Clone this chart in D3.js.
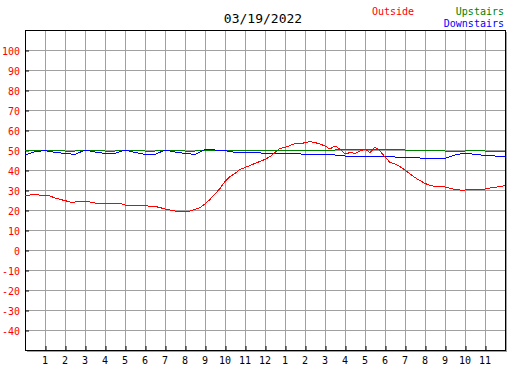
<!DOCTYPE html>
<html>
<head>
<meta charset="utf-8">
<script src="https://cdn.jsdelivr.net/npm/d3@7"></script>
<style>
  body { margin: 0; background: #fff; }
  text { font-family: "DejaVu Sans Mono", monospace; }
</style>
</head>
<body>
<div id="chart-container"></div>
<script>
// chart data (temperatures in F)
const chartDate = "03/19/2022";
const hourLabels = ["1", "2", "3", "4", "5", "6", "7", "8", "9", "10", "11", "12",
  "1", "2", "3", "4", "5", "6", "7", "8", "9", "10", "11"];
const tempTicks = [-40, -30, -20, -10, 0, 10, 20, 30, 40, 50, 60, 70, 80, 90, 100];

// outside readings every 15 minutes
const outsideTemps = [
  27.3, 27.5, 28, 27.3, 27.3, 27, 26, 25.3, 24.7, 24, 24, 24.5,
  24.3, 24, 23.5, 23.5, 23.5, 23.5, 23.5, 23.3, 22.5, 22.3, 22.3, 22.3,
  22.3, 21.8, 21.8, 21.2, 20.5, 20, 19.5, 19.5, 19.2, 19.5, 20.3, 21.2,
  23, 25.3, 28, 30.8, 34.2, 36.7, 38.3, 40.3, 41.2, 42.3, 43.3, 44.3,
  45.3, 46.7, 48.7, 50.8, 51.3, 52.2, 53.3, 53, 53.7, 54.2, 53.7, 53,
  52, 50.5, 52, 50.5, 48, 48.7, 48.3, 49.5, 50.5, 48.7, 51.5, 49.5,
  46.5, 43.8, 43, 41.7, 40, 38, 36.2, 34.7, 33.3, 32.3, 31.8, 31.7,
  31.5, 30.8, 30.3, 30, 30, 30.2, 30.2, 30.3, 30.5, 31, 31.3, 31.7, 32.2
];

// upstairs readings every 30 minutes
const upstairsTemps = [
  50, 50, 50, 50, 49.5, 49.5, 50, 50, 49.5, 49.5, 50, 50,
  49.5, 49.5, 50, 50, 49.5, 49.5, 50, 50, 50, 50, 50, 50,
  50, 50, 50, 50, 50, 50, 50, 50, 50.2, 50.2, 50.2, 50.2,
  50.2, 50.2, 50, 50, 50, 50, 49.5, 49.5, 49.5, 49.8, 49.5, 49.5, 49.5
];

// downstairs readings every 30 minutes
const downstairsTemps = [
  47.5, 49.2, 49.7, 48.8, 48.3, 47.8, 50, 49, 48.3, 48.3, 50, 48.8,
  47.8, 47.8, 50, 49, 48.3, 47.8, 50.3, 50, 49.7, 48.8, 48.8, 48.8,
  48.3, 48.3, 48.3, 48.3, 47.8, 47.8, 47.8, 47.5, 47, 46.8, 46.8, 46.8,
  46.8, 46.5, 46.2, 46.2, 45.8, 45.8, 45.8, 47.5, 48.5, 47.8, 47.3, 47, 47
];

// dimensions and margins for the chart
const margin = { top: 30, right: 22, bottom: 20, left: 25 };
const width = 527 - margin.left - margin.right;
const height = 370 - margin.top - margin.bottom;

// x and y scales
const xScale = d3.scaleLinear().domain([0, 24]).range([0, width]);
const yScale = d3.scaleLinear().domain([-50, 110]).range([height, 0]);

const svg = d3
  .select("#chart-container")
  .append("svg")
  .attr("width", width + margin.left + margin.right)
  .attr("height", height + margin.top + margin.bottom);

const g = svg
  .append("g")
  .attr("transform", `translate(${margin.left}, ${margin.top})`);

// gray drop shadow behind the plot
g.append("rect")
  .attr("x", 2)
  .attr("y", 2)
  .attr("width", width)
  .attr("height", height)
  .attr("fill", "#a0a0a0");

g.append("rect")
  .attr("width", width)
  .attr("height", height)
  .attr("fill", "#fff");

// grid lines
const hours = d3.range(1, 24);
g.selectAll(".vgrid")
  .data(hours)
  .join("line")
  .attr("class", "vgrid")
  .attr("x1", (d) => Math.round(xScale(d)) + 0.5)
  .attr("x2", (d) => Math.round(xScale(d)) + 0.5)
  .attr("y1", 0)
  .attr("y2", height)
  .attr("stroke", "#a0a0a0");

g.selectAll(".hgrid")
  .data(tempTicks)
  .join("line")
  .attr("class", "hgrid")
  .attr("x1", 0)
  .attr("x2", width)
  .attr("y1", (d) => Math.round(yScale(d)) + 0.5)
  .attr("y2", (d) => Math.round(yScale(d)) + 0.5)
  .attr("stroke", "#a0a0a0");

// axes with inward ticks
const xAxis = d3
  .axisTop(xScale)
  .tickValues(hours)
  .tickSize(4)
  .tickFormat("");

g.append("g")
  .attr("class", "x-axis")
  .attr("transform", `translate(0.5, ${height})`)
  .call(xAxis)
  .call((sel) => sel.select(".domain").remove())
  .selectAll(".tick line")
  .attr("stroke", "#000");

const yAxis = d3
  .axisRight(yScale)
  .tickValues(tempTicks)
  .tickSize(4)
  .tickFormat("");

g.append("g")
  .attr("class", "y-axis")
  .attr("transform", "translate(0, 0.5)")
  .call(yAxis)
  .call((sel) => sel.select(".domain").remove())
  .selectAll(".tick line")
  .attr("stroke", "#000");

// plot border
g.append("rect")
  .attr("x", 0.5)
  .attr("y", 0.5)
  .attr("width", width)
  .attr("height", height)
  .attr("fill", "none")
  .attr("stroke", "#000")
  .attr("stroke-width", 1);

// tick labels
g.selectAll(".x-label")
  .data(hourLabels)
  .join("text")
  .attr("class", "x-label")
  .attr("x", (d, i) => xScale(i + 1))
  .attr("y", height + 14)
  .attr("text-anchor", "middle")
  .style("font-size", "10px")
  .attr("fill", "#000")
  .text((d) => d);

g.selectAll(".y-label")
  .data(tempTicks)
  .join("text")
  .attr("class", "y-label")
  .attr("x", -5)
  .attr("y", (d) => yScale(d) + 4.5)
  .attr("text-anchor", "end")
  .style("font-size", "10px")
  .attr("fill", "#ff0000")
  .text((d) => d);

// line generators
const lineQuarter = d3
  .line()
  .x((d, i) => xScale(i * 0.25))
  .y((d) => yScale(d));

const lineHalf = d3
  .line()
  .x((d, i) => xScale(i * 0.5))
  .y((d) => yScale(d));

g.append("path")
  .datum(upstairsTemps)
  .attr("fill", "none")
  .attr("stroke", "#008000")
  .attr("stroke-width", 1)
  .attr("shape-rendering", "crispEdges")
  .attr("d", lineHalf);

g.append("path")
  .datum(downstairsTemps)
  .attr("fill", "none")
  .attr("stroke", "#0000ff")
  .attr("stroke-width", 1)
  .attr("shape-rendering", "crispEdges")
  .attr("d", lineHalf);

g.append("path")
  .datum(outsideTemps)
  .attr("fill", "none")
  .attr("stroke", "#ff0000")
  .attr("stroke-width", 1)
  .attr("shape-rendering", "crispEdges")
  .attr("d", lineQuarter);

// title and legend
svg.append("text")
  .attr("x", 263)
  .attr("y", 23)
  .attr("text-anchor", "middle")
  .style("font-size", "13px")
  .attr("fill", "#000")
  .text(chartDate);

svg.append("text")
  .attr("x", 372)
  .attr("y", 15)
  .style("font-size", "10px")
  .attr("fill", "#ff0000")
  .text("Outside");

svg.append("text")
  .attr("x", 504)
  .attr("y", 15)
  .attr("text-anchor", "end")
  .style("font-size", "10px")
  .attr("fill", "#008000")
  .text("Upstairs");

svg.append("text")
  .attr("x", 504)
  .attr("y", 26.5)
  .attr("text-anchor", "end")
  .style("font-size", "10px")
  .attr("fill", "#0000ff")
  .text("Downstairs");
</script>
</body>
</html>
